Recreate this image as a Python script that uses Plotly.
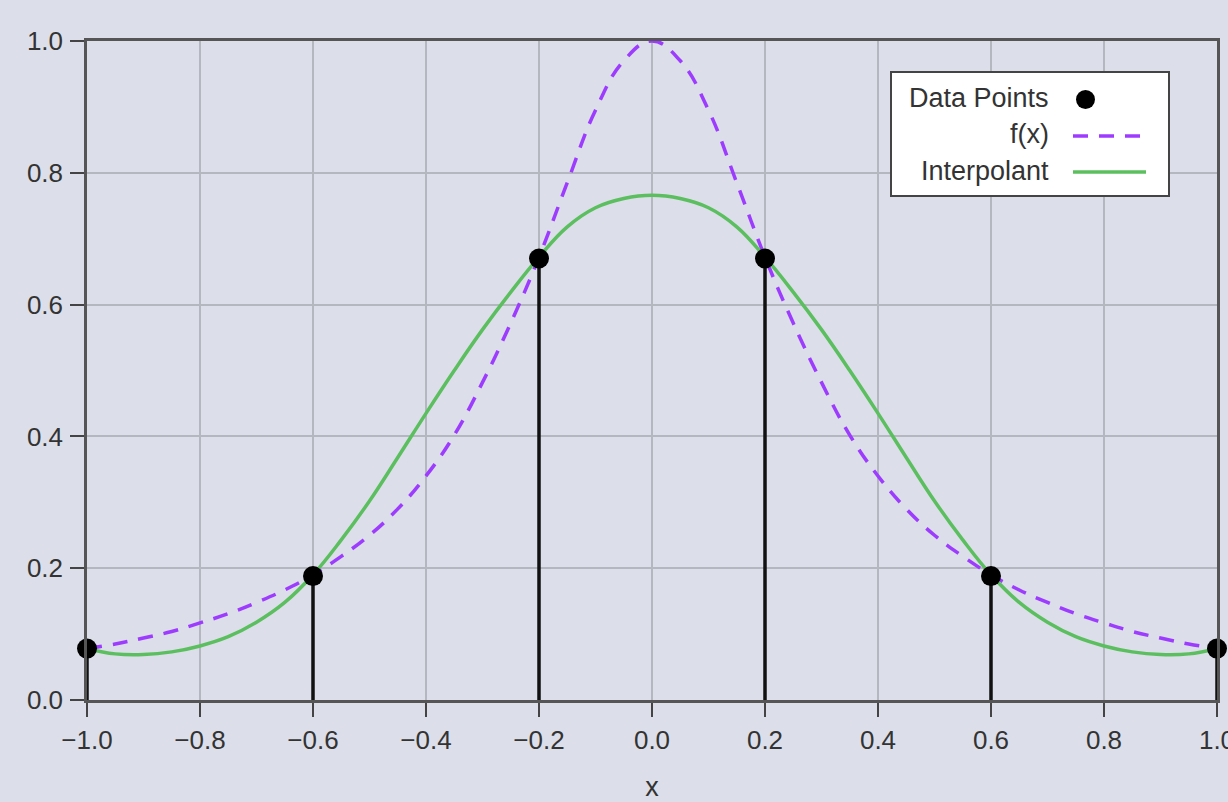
import plotly.graph_objects as go

# ---- data ----
node_x = [-1.0, -0.6, -0.2, 0.2, 0.6, 1.0]
node_y = [0.078, 0.188, 0.670, 0.670, 0.188, 0.078]

curve_x = [-1.0, -0.95, -0.9, -0.85, -0.8, -0.75, -0.7, -0.65, -0.6, -0.55, -0.5,
           -0.45, -0.4, -0.35, -0.3, -0.25, -0.2, -0.15, -0.1, -0.05, 0.0,
           0.05, 0.1, 0.15, 0.2, 0.25, 0.3, 0.35, 0.4, 0.45, 0.5,
           0.55, 0.6, 0.65, 0.7, 0.75, 0.8, 0.85, 0.9, 0.95, 1.0]

fx_y = [0.078, 0.085, 0.094, 0.104, 0.117, 0.131, 0.148, 0.167, 0.190, 0.218, 0.250,
        0.290, 0.340, 0.402, 0.482, 0.572, 0.672, 0.785, 0.895, 0.970, 1.000,
        0.970, 0.895, 0.785, 0.672, 0.572, 0.482, 0.402, 0.340, 0.290, 0.250,
        0.218, 0.190, 0.167, 0.148, 0.131, 0.117, 0.104, 0.094, 0.085, 0.078]

interp_y = [0.078, 0.070, 0.069, 0.073, 0.082, 0.096, 0.118, 0.148, 0.190, 0.243, 0.302,
            0.368, 0.435, 0.500, 0.562, 0.619, 0.672, 0.718, 0.747, 0.761, 0.766,
            0.761, 0.747, 0.718, 0.672, 0.619, 0.562, 0.500, 0.435, 0.368, 0.302,
            0.243, 0.190, 0.148, 0.118, 0.096, 0.082, 0.073, 0.069, 0.070, 0.078]

x_ticks = [-1.0, -0.8, -0.6, -0.4, -0.2, 0.0, 0.2, 0.4, 0.6, 0.8, 1.0]
y_ticks = [0.0, 0.2, 0.4, 0.6, 0.8, 1.0]
legend_labels = ["Data Points", "f(x)", "Interpolant"]

# ---- styles ----
BG = "#dcdfe9"
PURPLE = "#9d3cff"
GREEN = "#5cbf5f"
FONT = "Liberation Sans, Arial, sans-serif"
TXT = "#333333"

stem_x, stem_y = [], []
for xv, yv in zip(node_x, node_y):
    stem_x += [xv, xv, None]
    stem_y += [0, yv, None]

fig = go.Figure()
fig.add_trace(go.Scatter(x=stem_x, y=stem_y, mode="lines",
                         line=dict(color="#111111", width=3.5),
                         showlegend=False, hoverinfo="skip"))
fig.add_trace(go.Scatter(x=curve_x, y=fx_y, mode="lines", name=legend_labels[1],
                         line=dict(color=PURPLE, width=3.5, dash="15px,11px",
                                   shape="spline", smoothing=1.2),
                         showlegend=False))
fig.add_trace(go.Scatter(x=curve_x, y=interp_y, mode="lines", name=legend_labels[2],
                         line=dict(color=GREEN, width=3.5, shape="spline", smoothing=1.2),
                         showlegend=False))
fig.add_trace(go.Scatter(x=node_x, y=node_y, mode="markers", name=legend_labels[0],
                         marker=dict(color="#000000", size=20),
                         showlegend=False, cliponaxis=False))

# ---- custom legend (symbols to the right of the labels) ----
L, R, T, B = 87, 1217, 41, 700
def px(xp):
    return (xp - L) / (R - L)
def py(yp):
    return (B - yp) / (B - T)

shapes = [
    dict(type="rect", xref="paper", yref="paper",
         x0=px(891), x1=px(1169), y0=py(196), y1=py(72),
         fillcolor="white", line=dict(color="#444444", width=2), layer="above"),
    dict(type="circle", xref="paper", yref="paper",
         x0=px(1076), x1=px(1095), y0=py(109), y1=py(90),
         fillcolor="black", line=dict(color="black", width=0), layer="above"),
    dict(type="line", xref="paper", yref="paper",
         x0=px(1073), x1=px(1146), y0=py(136), y1=py(136),
         line=dict(color=PURPLE, width=3.5, dash="15px,11px"), layer="above"),
    dict(type="line", xref="paper", yref="paper",
         x0=px(1073), x1=px(1146), y0=py(172), y1=py(172),
         line=dict(color=GREEN, width=3.5), layer="above"),
]
annotations = []
for lab, yp in zip(legend_labels, [98, 134, 171]):
    annotations.append(dict(xref="paper", yref="paper", x=px(1051), y=py(yp),
                            text=lab, showarrow=False, xanchor="right", yanchor="middle",
                            font=dict(family=FONT, size=27, color=TXT)))

axis_common = dict(
    showline=True, linecolor="#555555", linewidth=2.5, mirror=True,
    showgrid=True, gridcolor="#b4b7bf", gridwidth=1.5,
    ticks="outside", ticklen=14, tickwidth=2, tickcolor="#444444",
    zeroline=False, automargin=False, ticklabeloverflow="allow",
    tickfont=dict(family=FONT, size=26, color=TXT),
)

fig.update_layout(
    width=1228, height=802,
    margin=dict(l=L, r=1228 - R, t=T, b=802 - B, autoexpand=False),
    paper_bgcolor=BG, plot_bgcolor=BG,
    showlegend=False,
    shapes=shapes, annotations=annotations,
    xaxis=dict(range=[-1.0, 1.0], tickvals=x_ticks, tickformat=".1f",
               ticklabelstandoff=1,
               title=dict(text="x", font=dict(family=FONT, size=27, color=TXT), standoff=28),
               **axis_common),
    yaxis=dict(range=[0.0, 1.0], tickvals=y_ticks, tickformat=".1f",
               ticklabelstandoff=2, **axis_common),
)

fig.write_html("out.html", config={"displayModeBar": False},
               post_script="document.body.style.margin='0px';document.body.style.overflow='hidden';")
